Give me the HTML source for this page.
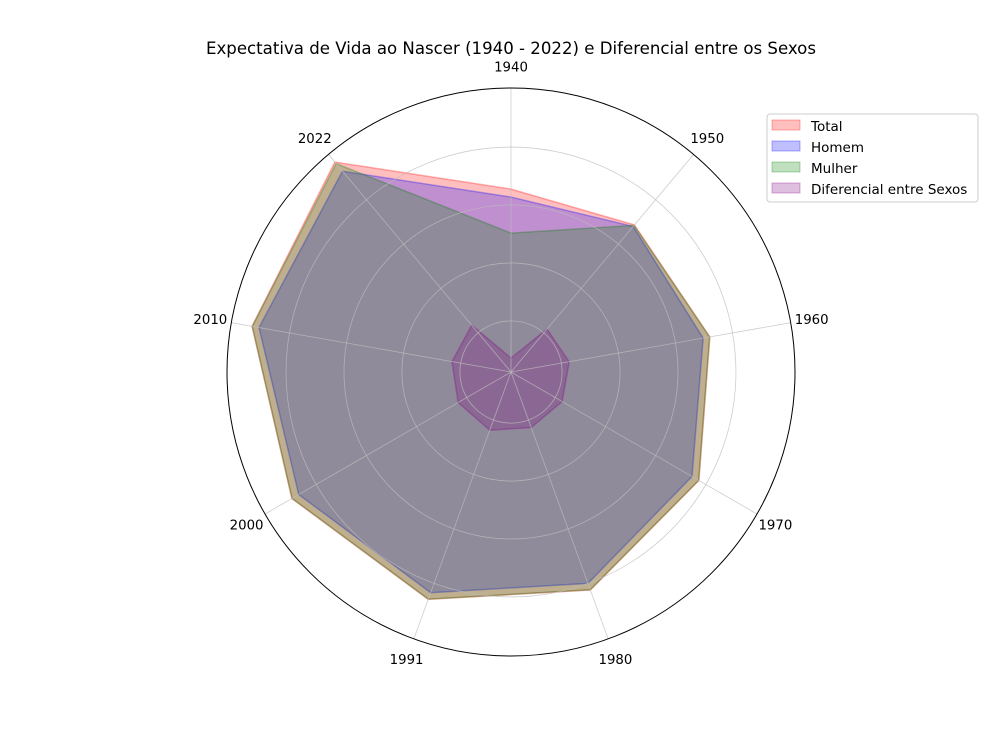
<!DOCTYPE html>
<html><head><meta charset="utf-8"><style>
body{margin:0;background:#fff;font-family:"Liberation Sans","DejaVu Sans",sans-serif;}
</style></head><body>
<svg id="chart" width="997" height="738" viewBox="0 0 997 738" xmlns="http://www.w3.org/2000/svg" font-family="DejaVu Sans, Liberation Sans, sans-serif">
<rect width="997" height="738" fill="#fff"/>
<text x="511" y="54" text-anchor="middle" font-size="16.6">Expectativa de Vida ao Nascer (1940 - 2022) e Diferencial entre os Sexos</text>
<g id="series"></g>
<g id="grid"></g>
<g id="labels"></g>
<g>
<rect x="767" y="114" width="211" height="88" rx="3" fill="#fff" stroke="#ccc"/>
<rect x="772" y="120" width="28" height="10" fill="rgba(255,0,0,0.25)" stroke="rgba(255,0,0,0.3)"/>
<text x="811" y="131" font-size="13.5">Total</text>
<rect x="772" y="141" width="28" height="10" fill="rgba(0,0,255,0.25)" stroke="rgba(0,0,255,0.3)"/>
<text x="811" y="152" font-size="13.5">Homem</text>
<rect x="772" y="162" width="28" height="10" fill="rgba(0,128,0,0.25)" stroke="rgba(0,128,0,0.3)"/>
<text x="811" y="173" font-size="13.5">Mulher</text>
<rect x="772" y="183" width="28" height="10" fill="rgba(128,0,128,0.25)" stroke="rgba(128,0,128,0.3)"/>
<text x="811" y="194" font-size="13.5">Diferencial entre Sexos</text>
</g>
</svg>
<script>
const categories = ["1940","1950","1960","1970","1980","1991","2000","2010","2022"];
const total = [64.4, 67.6, 71.1, 76.4, 81.7, 85.2, 89.1, 92.6, 96.5];
const homem = [61.6, 66.9, 68.7, 73.6, 79.2, 82.7, 86.3, 90.1, 92.3];
const mulher = [48.9, 67.4, 71.0, 76.3, 81.6, 85.1, 89.0, 92.5, 95.8];
const diferencial = [4.9, 19.7, 20.8, 20.8, 20.8, 21.8, 21.5, 21.1, 21.5];
const ringTicks = [18, 38.4, 58.8, 79.2];
const rMax = 100;
const cx = 511, cy = 372, R = 284;
const ns = "http://www.w3.org/2000/svg";
function rScale(v){ return v / rMax * R; }
function ang(i){ return i * 2 * Math.PI / categories.length; }
function pt(i, v){ const r = rScale(v), a = ang(i); return [cx + r*Math.sin(a), cy - r*Math.cos(a)]; }
const grid = document.getElementById('grid');
ringTicks.forEach((t,k)=>{
  const c = document.createElementNS(ns,'circle');
  c.setAttribute('cx',cx); c.setAttribute('cy',cy); c.setAttribute('r',rScale(t));
  c.setAttribute('fill','none'); c.setAttribute('stroke','rgba(190,190,190,0.75)'); c.setAttribute('stroke-width','0.8');
  
  
  grid.appendChild(c);
});
categories.forEach((c,i)=>{
  const [x,y] = pt(i, rMax);
  const l = document.createElementNS(ns,'line');
  l.setAttribute('x1',cx); l.setAttribute('y1',cy); l.setAttribute('x2',x); l.setAttribute('y2',y);
  l.setAttribute('stroke','rgba(190,190,190,0.75)'); l.setAttribute('stroke-width','0.8');
  
  
  grid.appendChild(l);
  const [tx,ty] = pt(i, rMax*1.075);
  const t = document.createElementNS(ns,'text');
  t.setAttribute('x',tx); t.setAttribute('y',ty+5); t.setAttribute('text-anchor','middle'); t.setAttribute('font-size','13.3');
  t.textContent = c;
  
  
  document.getElementById('labels').appendChild(t);
});
const outer = document.createElementNS(ns,'circle');
outer.setAttribute('cx',cx); outer.setAttribute('cy',cy); outer.setAttribute('r',R);
outer.setAttribute('fill','none'); outer.setAttribute('stroke','#000'); outer.setAttribute('stroke-width','1');


grid.appendChild(outer);
function poly(vals, fill, stroke, name){
  const p = document.createElementNS(ns,'polygon');
  p.setAttribute('points', vals.map((v,i)=>pt(i,v).join(',')).join(' '));
  p.setAttribute('fill', fill); p.setAttribute('stroke', stroke); p.setAttribute('stroke-width','1.5');
  
  
  document.getElementById('series').appendChild(p);
}
poly(total,'rgba(255,0,0,0.25)','rgba(255,0,0,0.3)','series-total');
poly(homem,'rgba(0,0,255,0.25)','rgba(0,0,255,0.3)','series-homem');
poly(mulher,'rgba(0,128,0,0.25)','rgba(0,128,0,0.3)','series-mulher');
poly(diferencial,'rgba(128,0,128,0.25)','rgba(128,0,128,0.3)','series-diferencial');
</script>
</body></html>
